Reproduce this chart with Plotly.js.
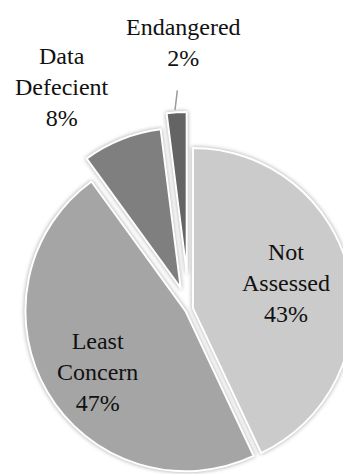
<!DOCTYPE html>
<html>
<head>
<meta charset="utf-8">
<script src="https://cdn.plot.ly/plotly-3.0.1.min.js"></script>
<style>
  html, body { margin: 0; padding: 0; width: 343px; height: 474px; overflow: hidden; background: #fff; }
  #chart { position: absolute; left: -8px; top: 0; }
  .pielayer .slice path.surface { filter: drop-shadow(0 0 2px rgba(0,0,0,0.35)); }
</style>
</head>
<body>
<div id="chart"></div>
<script>
const categories = ['Not Assessed', 'Least Concern', 'Data Defecient', 'Endangered'];
const displayLabels = ['Not<br>Assessed', 'Least<br>Concern', 'Data<br>Defecient', 'Endangered'];
const shares = [43, 47, 8, 2];
const sliceColors = ['#cbcbcb', '#a5a5a5', '#7f7f7f', '#646464'];
const pulls = [0.025, 0.025, 0.14, 0.23];

// label placement (paper coords) for each category's text
const labelX = [0.7462, 0.2665, 0.1777, 0.4848];
const labelY = [0.5421, 0.3981, 0.8592, 0.9312];

const FONT = 'Liberation Serif';

const trace = {
  type: 'pie',
  labels: categories,
  values: shares,
  textinfo: 'none',
  sort: false,
  direction: 'clockwise',
  rotation: 0,
  pull: pulls,
  marker: { colors: sliceColors, line: { color: '#ffffff', width: 2 } },
  hoverinfo: 'none',
  showlegend: false,
  domain: { x: [0, 1], y: [0, 1] }
};

const annotations = categories.map((c, i) => ({
  xref: 'paper', yref: 'paper',
  x: labelX[i], y: labelY[i],
  xanchor: 'center', yanchor: 'middle',
  text: displayLabels[i] + '<br>' + shares[i] + '%',
  showarrow: false,
  font: { family: FONT, size: 24, color: '#111111' },
  align: 'center'
}));
// Endangered leader line
annotations[3] = Object.assign({}, annotations[3], {
  x: 0.4645, y: 0.822,
  showarrow: true, arrowhead: 0, arrowwidth: 1.5, arrowcolor: '#9a9a9a',
  ax: 8, ay: -67.5, axref: 'pixel', ayref: 'pixel',
  startstandoff: 18
});

const layout = {
  width: 394,
  height: 618,
  margin: { l: 0, r: 0, t: 0, b: 0, pad: 0 },
  paper_bgcolor: 'rgba(0,0,0,0)',
  plot_bgcolor: 'rgba(0,0,0,0)',
  font: { family: FONT },
  showlegend: false,
  annotations: annotations
};

Plotly.newPlot('chart', [trace], layout, { staticPlot: true, displayModeBar: false });
</script>
</body>
</html>
